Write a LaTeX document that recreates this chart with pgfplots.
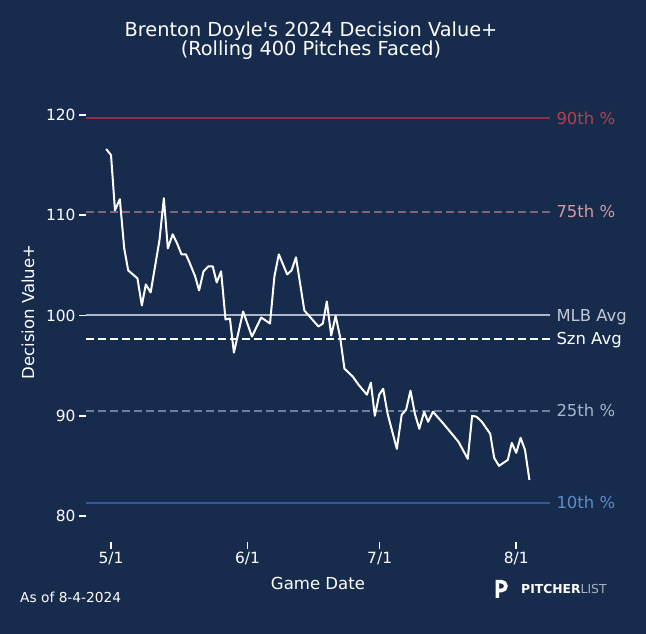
\documentclass[border=0pt]{standalone}
\usepackage{fontspec}
\setmainfont{DejaVu Sans}
\newfontfamily\titlefont{DejaVu Sans}
\usepackage{pgfplots}
\pgfplotsset{compat=1.18}
\definecolor{bg}{RGB}{23,43,77}
\definecolor{p90line}{RGB}{136,50,68}
\definecolor{p90txt}{RGB}{180,64,76}
\definecolor{p75line}{RGB}{128,102,122}
\definecolor{p75txt}{RGB}{212,158,158}
\definecolor{mlbline}{RGB}{176,182,198}
\definecolor{mlbtxt}{RGB}{196,200,212}
\definecolor{p25line}{RGB}{108,128,162}
\definecolor{p25txt}{RGB}{168,182,204}
\definecolor{p10line}{RGB}{44,92,156}
\definecolor{p10txt}{RGB}{92,140,200}
\definecolor{logogray}{RGB}{170,178,192}
\begin{document}
\begin{tikzpicture}[x=1bp,y=1bp]
\fill[bg] (0,0) rectangle (646,634);
\useasboundingbox (0,0) rectangle (646,634);
\begin{axis}[
  at={(86bp,92bp)}, anchor=south west,
  scale only axis, width=464bp, height=451bp,
  xmin=-5.68, xmax=99.68, ymin=77.41, ymax=122.39,
  axis line style={draw=none},
  tick pos=left, tick align=outside,
  major tick length=7bp,
  tick style={white, line width=1.6bp},
  xtick={0,31,61,92}, xticklabels={5/1,6/1,7/1,8/1},
  ytick={80,90,100,110,120},
  tick label style={font=\fontsize{15.5}{18}\selectfont, text=white},
  /pgf/number format/assume math mode=true,
  clip=false,
]
\addplot[p90line, line width=2bp] coordinates {(-5.68,119.65) (99.68,119.65)};
\addplot[p75line, line width=2bp, dash pattern=on 8bp off 4bp] coordinates {(-5.68,110.37) (99.68,110.37)};
\addplot[mlbline, line width=2bp] coordinates {(-5.68,100) (99.68,100)};
\addplot[white, line width=2bp, dash pattern=on 8bp off 4bp] coordinates {(-5.68,97.66) (99.68,97.66)};
\addplot[p25line, line width=2bp, dash pattern=on 8bp off 4bp] coordinates {(-5.68,90.52) (99.68,90.52)};
\addplot[p10line, line width=2bp] coordinates {(-5.68,81.3) (99.68,81.3)};
\addplot[white, line width=2bp, line join=round] coordinates {
(-1.1,116.6) (0,116.0) (0.9,110.5) (2.0,111.6) (3.0,106.7) (3.9,104.5)
(6.0,103.7) (7.0,101.0) (7.9,103.1) (9.0,102.3) (10,104.9) (11,107.5)
(12,111.7) (12.9,106.7) (14,108.1) (15,107.2) (16,106.1) (17,106.1)
(17.9,105.2) (19.1,103.9) (20,102.5) (21,104.4) (22.1,104.9) (23.1,104.9)
(24,103.3) (25,104.4) (26,99.6) (27,99.7) (27.9,96.3) (30,100.4)
(32,97.9) (34.1,99.8) (36.1,99.2) (37.1,103.9) (38.1,106.1) (40,104.1)
(41,104.5) (42,105.8) (43.9,100.5) (47.1,98.9) (48.1,99.2) (49,101.4)
(50,98.0) (51,99.95) (52,97.9) (53,94.7) (54.9,93.9) (56.2,93.1)
(58.1,92.1) (59,93.3) (59.9,90.0) (60.9,92.1) (61.8,92.7) (62.8,90.2)
(64.9,86.7) (66,90.1) (67,90.6) (68,92.5) (69,90.2) (70,88.7)
(71.1,90.4) (72,89.4) (73.1,90.4) (75.5,89.2) (78.9,87.4) (81,85.7)
(82,90.0) (83,89.9) (84.2,89.4) (86.1,88.2) (87,85.8) (88.1,85.0)
(90.1,85.6) (91,87.3) (92,86.3) (93,87.8) (94,86.6) (95,83.6)
};
\begin{scope}[every node/.style={anchor=west, font=\fontsize{16.5}{19}\selectfont, xshift=3bp}]
\node[text=p90txt] at (axis cs:99.68,119.65) {90th \%};
\node[text=p75txt] at (axis cs:99.68,110.37) {75th \%};
\node[text=mlbtxt, yshift=-1.6bp] at (axis cs:99.68,100) {MLB Avg};
\node[text=white, yshift=-1.2bp] at (axis cs:99.68,97.66) {Szn Avg};
\node[text=p25txt] at (axis cs:99.68,90.52) {25th \%};
\node[text=p10txt, yshift=0.6bp] at (axis cs:99.68,81.3) {10th \%};
\end{scope}
\end{axis}
% titles and labels
\node[anchor=base, text=white, font=\titlefont\fontsize{19.4}{22}\selectfont] at (311,597.5) {Brenton Doyle's 2024 Decision Value+};
\node[anchor=base, text=white, font=\titlefont\fontsize{19.4}{22}\selectfont] at (311,578.3) {(Rolling 400 Pitches Faced)};
\node[anchor=base, text=white, font=\fontsize{16.6}{19}\selectfont] at (318,44) {Game Date};
\node[rotate=90, text=white, font=\fontsize{16.6}{19}\selectfont] at (28,322) {Decision Value+};
\node[anchor=base west, text=white, font=\fontsize{13.8}{16}\selectfont, inner sep=0pt] at (20,31.5) {As of 8-4-2024};
% logo
\draw[white, line width=3.6bp, line cap=butt] (497.4,36) -- (497.4,52.3) -- (501.5,52.3) arc[start angle=90, end angle=-90, radius=4.4] -- (499,43.5);
\node[anchor=base west, inner sep=0pt, font=\fontsize{12.4}{15}\selectfont] at (521,40) {\textcolor{white}{\bfseries PITCHER}\textcolor{logogray}{LIST}};
\end{tikzpicture}
\end{document}
